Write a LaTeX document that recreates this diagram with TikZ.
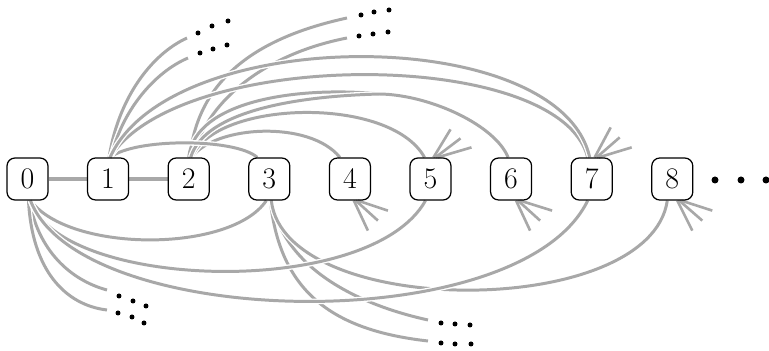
\documentclass[tikz,border=0pt]{standalone}
\usepackage{tikz}
\usetikzlibrary{calc,backgrounds}
\definecolor{edgegray}{HTML}{A8A8A8}

\begin{document}
\begin{tikzpicture}[x=0.02cm, y=-0.02cm,
    vtx/.style={draw=black, line width=0.7pt, rounded corners=0.16cm,
      minimum width=0.82cm, minimum height=0.84cm, inner sep=0pt,
      font=\fontsize{17}{20}\selectfont},
    edge/.style={draw=edgegray, line width=1.7pt,
      preaction={draw=white, line width=3.2pt}},
    chain/.style={draw=edgegray, line width=2.2pt},
    stub/.style={draw=edgegray, line width=1.5pt},
    dot/.style={fill=black}]
  \useasboundingbox (0,0) rectangle (769,351);

  % --- Vertices ---
  \node[vtx] (n0) at (27.5,179) {0};
  \node[vtx] (n1) at (108.1,179) {1};
  \node[vtx] (n2) at (188.7,179) {2};
  \node[vtx] (n3) at (269.3,179) {3};
  \node[vtx] (n4) at (349.9,179) {4};
  \node[vtx] (n5) at (430.5,179) {5};
  \node[vtx] (n6) at (511.1,179) {6};
  \node[vtx] (n7) at (591.7,179) {7};
  \node[vtx] (n8) at (672.3,179) {8};

  % --- Free ends (towards the dots) ---
  \coordinate (d1a) at (187,38);
  \coordinate (d1b) at (188,58);
  \coordinate (d2a) at (347,18);
  \coordinate (d2b) at (347,38);
  \coordinate (d0a) at (107,290);
  \coordinate (d0b) at (107,310);
  \coordinate (d3a) at (428,320);
  \coordinate (d3b) at (428,341);
  \coordinate (j26) at (380,94);

  \begin{scope}[on background layer]
    % --- Chain ---
    \draw[chain] (n0) -- (n1);
    \draw[chain] (n1) -- (n2);

    % --- Upper arcs from 2 ---
    \draw[edge] ($(n2.north)+(1,0)$) .. controls (198,80) and (255,38) .. (d2a);
    \draw[edge] ($(n2.north)+(4,0)$) .. controls (205,105) and (260,55) .. (d2b);
    \draw[edge] ($(n2.north)+(3,0)$) .. controls (215,125) and (310,120) .. ($(n4.north)+(-10,0)$);
    \draw[edge] ($(n2.north)+(3,0)$) .. controls (215,100) and (390,95) .. ($(n5.north)+(-6,0)$);
    \draw[edge] ($(n2.north)+(0,0)$) .. controls (195,100) and (300,86) .. (j26);
    \draw[edge] ($(n2.north)+(2,0)$) .. controls (205,110) and (300,96) .. (j26)
      .. controls (430,95) and (495,125) .. ($(n6.north)+(-3,0)$);

    % --- Upper arcs from 1 ---
    \draw[edge] ($(n1.north)+(2,0)$) .. controls (135,138) and (235,138) .. ($(n3.north)+(-12,0)$);
    \draw[edge] ($(n1.north)+(1,0)$) .. controls (118,100) and (150,55) .. (d1a);
    \draw[edge] ($(n1.north)+(3,0)$) .. controls (122,110) and (155,72) .. (d1b);
    \draw[edge] ($(n1.north)+(2,0)$) .. controls (180,47) and (560,47) .. ($(n7.north)+(-4,0)$);
    \draw[edge] ($(n1.north)+(2,0)$) .. controls (170,23) and (560,23) .. ($(n7.north)+(-2,0)$);

    % --- Lower arcs from 3 ---
    \draw[edge] ($(n3.south)+(2,0)$) .. controls (285,270) and (360,305) .. (d3a);
    \draw[edge] ($(n3.south)+(1,0)$) .. controls (280,290) and (330,330) .. (d3b);
    \draw[edge] ($(n3.south)+(2,0)$) .. controls (285,320) and (650,320) .. ($(n8.south)+(-5,0)$);

    % --- Lower arcs from 0 ---
    \draw[edge] ($(n0.south)+(2,0)$) .. controls (38,250) and (70,280) .. (d0a);
    \draw[edge] ($(n0.south)+(1,0)$) .. controls (32,270) and (65,305) .. (d0b);
    \draw[edge] ($(n0.south)+(3,0)$) .. controls (70,253) and (231,253) .. ($(n3.south)+(-3,0)$);
    \draw[edge] ($(n0.south)+(3,0)$) .. controls (60,290) and (370,300) .. ($(n5.south)+(-5,0)$);
    \draw[edge] ($(n0.south)+(3,0)$) .. controls (80,330) and (520,340) .. ($(n7.south)+(-4,0)$);

    % --- Cut-off edges ---
    \draw[stub] ($(n5.north)+(3,0)$) -- ++(17,-28);
    \draw[stub] ($(n5.north)+(5,0)$) -- ++(25,-19);
    \draw[stub] ($(n5.north)+(7,0)$) -- ++(34,-10);
    \draw[stub] ($(n7.north)+(3,0)$) -- ++(16,-30);
    \draw[stub] ($(n7.north)+(5,0)$) -- ++(23,-20);
    \draw[stub] ($(n7.north)+(7,0)$) -- ++(33,-10);
    \draw[stub] ($(n4.south)+(4,0)$) -- ++(14,30);
    \draw[stub] ($(n4.south)+(6,0)$) -- ++(22,20);
    \draw[stub] ($(n4.south)+(8,0)$) -- ++(30,10);
    \draw[stub] ($(n6.south)+(5,0)$) -- ++(14,30);
    \draw[stub] ($(n6.south)+(7,0)$) -- ++(22,20);
    \draw[stub] ($(n6.south)+(9,0)$) -- ++(32,10);
    \draw[stub] ($(n8.south)+(5,0)$) -- ++(15,30);
    \draw[stub] ($(n8.south)+(7,0)$) -- ++(23,20);
    \draw[stub] ($(n8.south)+(9,0)$) -- ++(31,10);
  \end{scope}

  % --- Dots ---
  \fill[dot] (198,33) circle[radius=0.05cm] (212,26) circle[radius=0.05cm] (228,21) circle[radius=0.05cm];
  \fill[dot] (200,53) circle[radius=0.05cm] (213,49) circle[radius=0.05cm] (227,45) circle[radius=0.05cm];
  \fill[dot] (361,15) circle[radius=0.05cm] (374,12) circle[radius=0.05cm] (389,10) circle[radius=0.05cm];
  \fill[dot] (359,36) circle[radius=0.05cm] (373,34) circle[radius=0.05cm] (388,32) circle[radius=0.05cm];
  \fill[dot] (119,296) circle[radius=0.05cm] (133,301) circle[radius=0.05cm] (146,306) circle[radius=0.05cm];
  \fill[dot] (118,313) circle[radius=0.05cm] (132,317) circle[radius=0.05cm] (144,323) circle[radius=0.05cm];
  \fill[dot] (441,323) circle[radius=0.05cm] (455,324) circle[radius=0.05cm] (470,325) circle[radius=0.05cm];
  \fill[dot] (441,343) circle[radius=0.05cm] (455,344) circle[radius=0.05cm] (471,344) circle[radius=0.05cm];
  \fill[dot] (715,180) circle[radius=0.07cm] (741,180) circle[radius=0.07cm] (766,180) circle[radius=0.07cm];
\end{tikzpicture}
\end{document}
